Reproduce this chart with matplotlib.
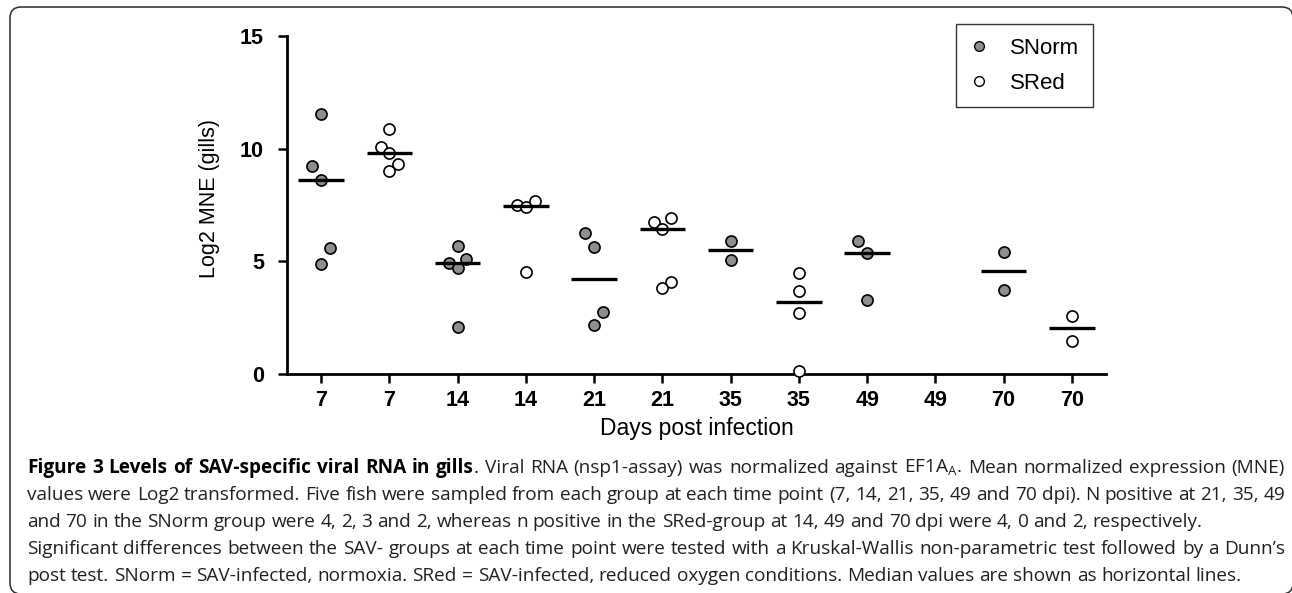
import matplotlib
matplotlib.use("Agg")
import matplotlib.pyplot as plt
import numpy as np
from matplotlib.patches import FancyBboxPatch
from matplotlib.lines import Line2D
from matplotlib.transforms import Affine2D

W, H, DPI = 1292, 593, 100

# ---------------- data ----------------
tick_labels = ["7", "7", "14", "14", "21", "21", "35", "35", "49", "49", "70", "70"]
groups = ["SNorm", "SRed"] * 6

snorm_7 = [11.54, 9.21, 8.61, 5.57, 4.89]
sred_7 = [10.89, 10.09, 9.79, 9.33, 8.99]
snorm_14 = [5.67, 4.92, 5.10, 4.70, 2.09]
sred_14 = [7.50, 7.41, 7.69, 4.53]
snorm_21 = [6.25, 5.64, 2.77, 2.19]
sred_21 = [6.74, 6.92, 6.44, 4.09, 3.81]
snorm_35 = [5.91, 5.07]
sred_35 = [4.50, 3.67, 2.71, 0.15]
snorm_49 = [5.90, 5.36, 3.30]
sred_49 = []
snorm_70 = [5.41, 3.73]
sred_70 = [2.59, 1.48]

series = [snorm_7, sred_7, snorm_14, sred_14, snorm_21, sred_21,
          snorm_35, sred_35, snorm_49, sred_49, snorm_70, sred_70]

# side-by-side placement of overlapping points (-1 left, 0 centre, +1 right)
spread = [[0, -1, 0, 1, 0], [0, -1, 0, 1, 0], [0, -1, 1, 0, 0], [-1, 0, 1, 0],
          [-1, 0, 1, 0], [-1, 1, 0, 1, 0], [0, 0], [0, 0, 0, 0],
          [-1, 0, 0], [], [0, 0], [0, 0]]

caption_bold = "Figure 3 Levels of SAV-specific viral RNA in gills"
caption_lines = [
    ". Viral RNA (nsp1-assay) was normalized against EF1A$_{\\mathregular{A}}$. Mean normalized expression (MNE)",
    "values were Log2 transformed. Five fish were sampled from each group at each time point (7, 14, 21, 35, 49 and 70 dpi). N positive at 21, 35, 49",
    "and 70 in the SNorm group were 4, 2, 3 and 2, whereas n positive in the SRed-group at 14, 49 and 70 dpi were 4, 0 and 2, respectively.",
    "Significant differences between the SAV- groups at each time point were tested with a Kruskal-Wallis non-parametric test followed by a Dunn\u2019s",
    "post test. SNorm = SAV-infected, normoxia. SRed = SAV-infected, reduced oxygen conditions. Median values are shown as horizontal lines.",
]
justified = [True, True, False, True, False]

# ---------------- style ----------------
plt.rcParams['font.family'] = ['Liberation Sans', 'DejaVu Sans']
fill = {"SNorm": "#8e8e8e", "SRed": "white"}

fig = plt.figure(figsize=(W / DPI, H / DPI), dpi=DPI)
px = Affine2D().scale(1.0 / W, 1.0 / H) + fig.transFigure  # pixel coords, origin bottom-left

# figure frame (rounded box)
frame = FancyBboxPatch((10, -1), 1283, H - 7 + 1, boxstyle="round,pad=0,rounding_size=11",
                       transform=px, fill=False, edgecolor="#2a2a2a", linewidth=1.1, clip_on=False)
fig.add_artist(frame)

ax_l, ax_r, ax_t, ax_b = 287, 1106, 36, 374
ax = fig.add_axes([ax_l / W, 1 - ax_b / H, (ax_r - ax_l) / W, (ax_b - ax_t) / H])

x_pos = np.arange(len(tick_labels))
half = 0.335
step = 0.127
for i, (vals, g, sp) in enumerate(zip(series, groups, spread)):
    if len(vals) == 0:
        continue
    xs = x_pos[i] + step * np.array(sp, dtype=float)
    ax.plot(xs, vals, linestyle="none", marker="o", markersize=8.0,
            markerfacecolor=fill[g], markeredgecolor="black", markeredgewidth=1.2,
            zorder=3, clip_on=False)
    med = np.median(vals)
    ax.plot([x_pos[i] - half, x_pos[i] + half], [med, med], color="black",
            linewidth=2.4, solid_capstyle="butt", zorder=4)

ax.set_xlim(-0.5, 11.5)
ax.set_ylim(0, 15)
ax.set_yticks([0, 5, 10, 15])
ax.set_xticks(x_pos)
ax.set_xticklabels(tick_labels)
for s in ["top", "right"]:
    ax.spines[s].set_visible(False)
for s in ["left", "bottom"]:
    ax.spines[s].set_linewidth(2.0)
ax.tick_params(axis="both", direction="out", length=6.5, width=1.8, labelsize=15.5)
ax.tick_params(axis="y", pad=10)
ax.tick_params(axis="x", pad=5)
for lab in ax.get_xticklabels() + ax.get_yticklabels():
    lab.set_fontweight("bold")

ax.set_ylabel("Log2 MNE (gills)", fontsize=15.5, va="center")
ax.yaxis.set_label_coords((210 - ax_l) / (ax_r - ax_l), 0.52)
ax.set_xlabel("Days post infection", fontsize=16.5, va="center")
ax.xaxis.set_label_coords(0.5, (ax_b - 429) / (ax_b - ax_t))

handles = [Line2D([], [], linestyle="none", marker="o", markersize=7, markerfacecolor=fill[g],
                  markeredgecolor="black", markeredgewidth=1.0) for g in ["SNorm", "SRed"]]
leg = fig.legend(handles, ["SNorm", "SRed"], loc="upper left",
                 bbox_to_anchor=(956 / W, 1 - 24 / H), borderaxespad=0, fontsize=16,
                 frameon=True, fancybox=False, edgecolor="#333333", framealpha=1,
                 borderpad=0.62, handlelength=0.8, handletextpad=1.0, labelspacing=0.62)
leg.get_frame().set_linewidth(1.0)

# ---------------- caption ----------------
cap_font = ['Open Sans', 'DejaVu Sans']
cap_color = "#231f20"
fig.canvas.draw()
r = fig.canvas.get_renderer()


def width_of(s, size, bold=False):
    t = fig.text(0, 0, s, fontsize=size, fontweight="bold" if bold else "normal", family=cap_font)
    w = t.get_window_extent(r).width
    t.remove()
    return w


x0, x1 = 27, 1285
target = x1 - x0
base = 12.0
# size chosen so the widest line fits the caption width at normal spacing
widths = [width_of(caption_bold, base, True) + width_of(caption_lines[0], base)] + \
         [width_of(l, base) for l in caption_lines[1:]]
cap_size = base * target / max(widths) * 0.995

baselines = [473, 500, 527, 554, 581]


def place_line(tokens, yb, justify):
    # tokens: list of (word, bold, attach) ; attach=True means no space before
    ws = [width_of(w, cap_size, b) for w, b, a in tokens]
    space = width_of("a a", cap_size) - width_of("aa", cap_size)
    n_gaps = sum(1 for (w, b, a) in tokens[1:] if not a)
    natural = sum(ws) + space * n_gaps
    gap = space
    if justify and n_gaps > 0:
        gap = space + (target - natural) / n_gaps
    x = x0
    for k, ((w, b, a), ww) in enumerate(zip(tokens, ws)):
        if k > 0 and not a:
            x += gap
        fig.text(x / W, 1 - yb / H, w, fontsize=cap_size, family=cap_font,
                 fontweight="bold" if b else "normal",
                 color="black" if b else cap_color, va="baseline")
        x += ww


for li, (line, yb) in enumerate(zip(caption_lines, baselines)):
    tokens = []
    if li == 0:
        tokens += [(w, True, False) for w in caption_bold.split(" ")]
        words = line.split(" ")
        tokens.append((words[0], False, True))
        tokens += [(w, False, False) for w in words[1:]]
    else:
        tokens += [(w, False, False) for w in line.split(" ")]
    place_line(tokens, yb, justified[li])

fig.savefig("out.png", dpi=DPI)
